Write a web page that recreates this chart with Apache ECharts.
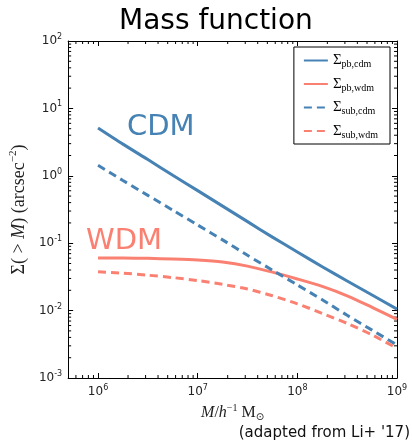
<!DOCTYPE html>
<html>
<head>
<meta charset="utf-8">
<script src="https://cdn.jsdelivr.net/npm/echarts@6/dist/echarts.min.js"></script>
<style>
  html, body { margin: 0; padding: 0; background: #fff; }
  #main { width: 412px; height: 445px; }
</style>
</head>
<body>
<div id="main"></div>
<script>
// halo mass, h^-1 Msun (quarter-decade steps)
var mass = [1e6, 1.778e6, 3.162e6, 5.623e6, 1e7, 1.778e7, 3.162e7, 5.623e7,
            1e8, 1.778e8, 3.162e8, 5.623e8, 1e9];
// cumulative surface density, arcsec^-2
var pbCdm  = [5.13, 2.95, 1.74, 1.02, 0.603, 0.355, 0.209, 0.123, 0.0741, 0.0447, 0.0275, 0.0170, 0.0105];
var pbWdm  = [0.0605, 0.0603, 0.0596, 0.0582, 0.0562, 0.0525, 0.0457, 0.0372, 0.0295, 0.0229, 0.0166, 0.0112, 0.0074];
var subCdm = [1.43, 0.851, 0.513, 0.309, 0.186, 0.112, 0.0661, 0.0398, 0.0240, 0.0145, 0.00851, 0.00513, 0.00309];
var subWdm = [0.0376, 0.0359, 0.0335, 0.0309, 0.0279, 0.0245, 0.0209, 0.0166, 0.0126, 0.0091, 0.00646, 0.00437, 0.00275];

var xMin = Math.pow(10, 5.7), xMax = 1e9;
var yMin = 1e-3, yMax = 1e2;
var xDecades = [5, 6, 7, 8];
var yDecades = [-3, -2, -1, 0, 1];

var blue = '#4682b4';
var red = '#fa8072';

function pairs(ys) {
  return mass.map(function (m, i) { return [m, ys[i]]; });
}

// minor tick positions 2..9 x 10^n inside the axis range
function minors(decades, lo, hi) {
  var out = [];
  decades.forEach(function (d) {
    for (var k = 2; k <= 9; k++) {
      var v = k * Math.pow(10, d);
      if (v > lo && v < hi) out.push(v);
    }
  });
  return out;
}
var xMinor = minors(xDecades, xMin, xMax);
var yMinor = minors(yDecades, yMin, yMax);

function powLabel(v) {
  var e = Math.round(Math.log10(v));
  if (Math.abs(Math.log10(v) - e) > 1e-6) return '';
  return '{b|10}{s|' + e + '}';
}

var labelRich = {
  b: { fontFamily: 'DejaVu Sans', fontSize: 12, color: '#222', lineHeight: 16 },
  s: { fontFamily: 'DejaVu Sans', fontSize: 8, color: '#222', lineHeight: 8, verticalAlign: 'top' }
};

var serif = 'Liberation Serif';

function line(name, ys, color, dashed) {
  return {
    name: name,
    type: 'line',
    data: pairs(ys),
    smooth: 0.25,
    symbol: 'none',
    lineStyle: { color: color, width: 3, type: dashed ? [8, 5] : 'solid' },
    itemStyle: { color: color },
    z: 3
  };
}

var chart = echarts.init(document.getElementById('main'));

var option = {
  backgroundColor: '#fff',
  animation: false,
  title: {
    text: 'Mass function',
    left: 114,
    top: 3,
    textStyle: { fontFamily: 'DejaVu Sans', fontSize: 28, fontWeight: 'normal', color: '#000' }
  },
  grid: { left: 66, right: 15, top: 41, bottom: 67 },
  legend: {
    orient: 'vertical',
    top: 47,
    right: 22,
    itemWidth: 24,
    itemHeight: 14,
    itemGap: 7,
    padding: [6, 12, 4, 9],
    backgroundColor: '#fff',
    borderColor: '#000',
    borderWidth: 1,
    itemStyle: { opacity: 0 },
    data: ['pb,cdm', 'pb,wdm', 'sub,cdm', 'sub,wdm'],
    formatter: function (n) { return '{n|Σ}{sub|' + n + '}'; },
    textStyle: {
      rich: {
        n: { fontFamily: serif, fontSize: 15, color: '#000', lineHeight: 18 },
        sub: { fontFamily: serif, fontSize: 10, color: '#000', lineHeight: 10, verticalAlign: 'bottom' }
      }
    }
  },
  xAxis: [{
    type: 'log',
    logBase: 10,
    min: xMin,
    max: xMax,
    position: 'bottom',
    name: '{i|M}{n|/}{i|h}{s|−1}{n| M}{sub|⊙}',
    nameLocation: 'middle',
    nameGap: 16,
    nameTextStyle: {
      rich: {
        i: { fontFamily: serif, fontStyle: 'italic', fontSize: 16, color: '#222', lineHeight: 20 },
        n: { fontFamily: serif, fontSize: 16, color: '#222', lineHeight: 20 },
        s: { fontFamily: serif, fontSize: 10, color: '#222', lineHeight: 10, verticalAlign: 'top' },
        sub: { fontFamily: 'DejaVu Sans', fontSize: 10, color: '#222', lineHeight: 10, verticalAlign: 'bottom' }
      }
    },
    axisLine: { lineStyle: { color: '#000', width: 1 } },
    axisTick: { inside: true, length: 5, lineStyle: { color: '#000' } },
    axisLabel: { formatter: powLabel, rich: labelRich, margin: 6 },
    splitLine: { show: false }
  }, {
    type: 'log',
    logBase: 10,
    min: xMin,
    max: xMax,
    position: 'top',
    axisLine: { lineStyle: { color: '#000', width: 1 } },
    axisTick: { inside: true, length: 5, lineStyle: { color: '#000' } },
    axisLabel: { show: false },
    splitLine: { show: false }
  }],
  yAxis: [{
    type: 'log',
    logBase: 10,
    min: yMin,
    max: yMax,
    position: 'left',
    name: '{n|Σ( > }{i|M}{n|) (arcsec}{s|−2}{n|)}',
    nameLocation: 'middle',
    nameRotate: 90,
    nameGap: 38,
    nameTextStyle: {
      rich: {
        i: { fontFamily: serif, fontStyle: 'italic', fontSize: 18, color: '#222', lineHeight: 22 },
        n: { fontFamily: serif, fontSize: 18, color: '#222', lineHeight: 22 },
        s: { fontFamily: serif, fontSize: 11, color: '#222', lineHeight: 11, verticalAlign: 'top' }
      }
    },
    axisLine: { lineStyle: { color: '#000', width: 1 } },
    axisTick: { inside: true, length: 5, lineStyle: { color: '#000' } },
    axisLabel: { formatter: powLabel, rich: labelRich, margin: 6 },
    splitLine: { show: false }
  }, {
    type: 'log',
    logBase: 10,
    min: yMin,
    max: yMax,
    position: 'right',
    axisLine: { lineStyle: { color: '#000', width: 1 } },
    axisTick: { inside: true, length: 5, lineStyle: { color: '#000' } },
    axisLabel: { show: false },
    splitLine: { show: false }
  }],
  graphic: [
    { type: 'text', left: 127, top: 113,
      style: { text: 'CDM', fontFamily: 'DejaVu Sans', fontSize: 29, fill: blue } },
    { type: 'text', left: 86, top: 227,
      style: { text: 'WDM', fontFamily: 'DejaVu Sans', fontSize: 29, fill: red } },
    { type: 'text', right: 2, top: 426,
      style: { text: "(adapted from Li+ '17)", fontFamily: 'DejaVu Sans', fontSize: 15, fill: '#111' } }
  ],
  series: [
    line('pb,cdm', pbCdm, blue, false),
    line('pb,wdm', pbWdm, red, false),
    line('sub,cdm', subCdm, blue, true),
    line('sub,wdm', subWdm, red, true),
    {
      type: 'custom',
      silent: true,
      clip: false,
      data: xMinor.map(function (v) { return [v, yMin]; }),
      renderItem: function (params, api) {
        var b = api.coord([api.value(0), yMin]);
        var t = api.coord([api.value(0), yMax]);
        var st = { stroke: '#000', lineWidth: 1 };
        return { type: 'group', children: [
          { type: 'line', shape: { x1: b[0], y1: b[1], x2: b[0], y2: b[1] - 3 }, style: st },
          { type: 'line', shape: { x1: t[0], y1: t[1], x2: t[0], y2: t[1] + 3 }, style: st }
        ] };
      }
    },
    {
      type: 'custom',
      silent: true,
      clip: false,
      data: yMinor.map(function (v) { return [xMin, v]; }),
      renderItem: function (params, api) {
        var l = api.coord([xMin, api.value(1)]);
        var r = api.coord([xMax, api.value(1)]);
        var st = { stroke: '#000', lineWidth: 1 };
        return { type: 'group', children: [
          { type: 'line', shape: { x1: l[0], y1: l[1], x2: l[0] + 3, y2: l[1] }, style: st },
          { type: 'line', shape: { x1: r[0], y1: r[1], x2: r[0] - 3, y2: r[1] }, style: st }
        ] };
      }
    }
  ]
};

chart.setOption(option);
</script>
</body>
</html>
